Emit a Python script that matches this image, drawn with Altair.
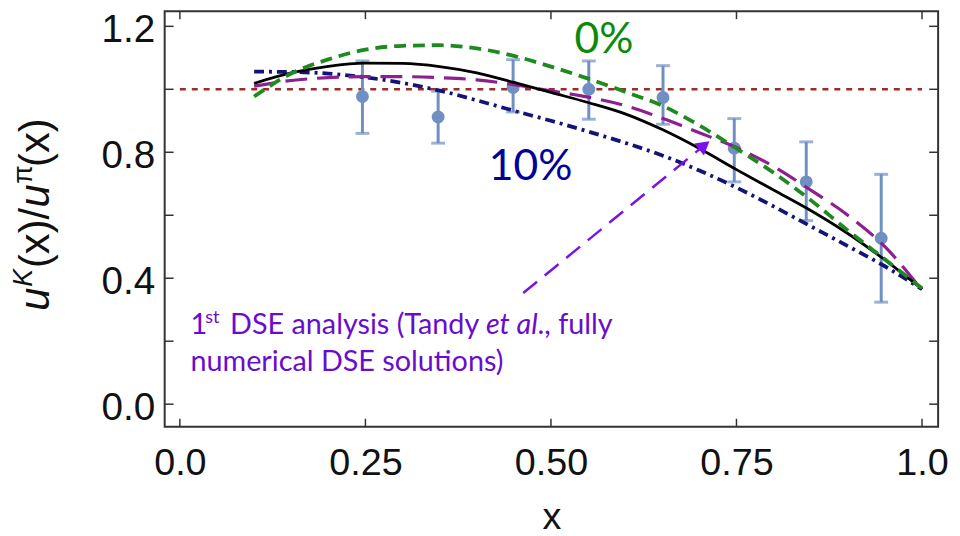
import altair as alt
import pandas as pd

# ---------------- data ----------------
X_GRID = [0.10, 0.15, 0.20, 0.25, 0.30, 0.35, 0.40, 0.45, 0.50, 0.55,
          0.60, 0.65, 0.70, 0.75, 0.80, 0.85, 0.90, 0.95, 1.00]
BLACK = [1.019, 1.052, 1.073, 1.083, 1.082, 1.072, 1.052, 1.022, 0.990, 0.958,
         0.922, 0.872, 0.812, 0.745, 0.680, 0.615, 0.542, 0.458, 0.365]
GREEN = [0.977, 1.050, 1.095, 1.126, 1.138, 1.140, 1.130, 1.106, 1.072, 1.034,
         0.992, 0.948, 0.885, 0.812, 0.735, 0.648, 0.552, 0.460, 0.368]
PURPLE = [1.010, 1.028, 1.037, 1.040, 1.040, 1.037, 1.030, 1.015, 0.995, 0.975,
          0.948, 0.908, 0.862, 0.815, 0.755, 0.680, 0.600, 0.500, 0.362]
NAVY = [1.056, 1.055, 1.050, 1.038, 1.020, 0.996, 0.965, 0.932, 0.900, 0.866,
        0.830, 0.790, 0.742, 0.688, 0.628, 0.565, 0.502, 0.438, 0.365]

REF_X = [0.0, 1.0]
REF_Y = [1.0, 1.0]

PTS_X = [0.246, 0.348, 0.449, 0.551, 0.651, 0.747, 0.844, 0.945]
PTS_Y = [0.977, 0.912, 1.006, 1.000, 0.974, 0.813, 0.706, 0.527]
PTS_LO = [0.860, 0.829, 0.928, 0.905, 0.889, 0.706, 0.583, 0.324]
PTS_HI = [1.090, 0.994, 1.094, 1.090, 1.075, 0.907, 0.833, 0.730]

ARROW_X = [0.4626, 0.7066]
ARROW_Y = [0.353, 0.822]

X_TICKS = [0.0, 0.25, 0.5, 0.75, 1.0]
Y_TICKS = [0.0, 0.2, 0.4, 0.6, 0.8, 1.0, 1.2]
Y_LABELS = [0.0, 0.4, 0.8, 1.2]

# ---------------- layout ----------------
W, H = 780, 419
XS = alt.Scale(domain=[-0.0205, 1.0217], nice=False, zero=False)
YS = alt.Scale(domain=[-0.0715, 1.248], nice=False, zero=False)
AXFONT = "Liberation Sans"
NOTEFONT = "Lato"

XAX = alt.Axis(values=X_TICKS, grid=False, ticks=False, tickSize=0, domain=False,
               labelExpr="datum.value == 0 ? '0.0' : datum.value == 1 ? '1.0' : format(datum.value, '.2f')",
               labelFont=AXFONT, labelFontSize=38, labelColor="#111", labelPadding=18,
               labelFlush=False, title="x", titleFont=AXFONT, titleFontSize=38,
               titleFontWeight="normal", titleColor="#111", titlePadding=17)
YAX = alt.Axis(values=Y_LABELS, grid=False, ticks=False, tickSize=0, domain=False,
               format=".1f", labelFont=AXFONT, labelFontSize=39, labelColor="#111",
               labelPadding=10, labelOffset=3, labelFlush=False, title=None)


def xe(field):
    return alt.X(field, type="quantitative", scale=XS, axis=XAX)


def ye(field):
    return alt.Y(field, type="quantitative", scale=YS, axis=YAX)


def curve(vals, color, dash, width):
    df = pd.DataFrame({"x": X_GRID, "y": vals})
    mk = dict(color=color, strokeWidth=width, interpolate="monotone")
    if dash:
        mk["strokeDash"] = dash
    return alt.Chart(df).mark_line(**mk).encode(x=xe("x"), y=ye("y"))


ref = alt.Chart(pd.DataFrame({"x": REF_X, "y": REF_Y})).mark_line(
    color="#a02a2a", strokeWidth=2.5, strokeDash=[6, 6]).encode(x=xe("x"), y=ye("y"))

pts_df = pd.DataFrame({"x": PTS_X, "y": PTS_Y, "lo": PTS_LO, "hi": PTS_HI})
PCOL = "#7090c4"
ebar = alt.Chart(pts_df).mark_rule(color=PCOL, strokeWidth=3).encode(
    x=xe("x"), y=ye("lo"), y2="hi")
cap_lo = alt.Chart(pts_df).mark_tick(color=PCOL, orient="horizontal", size=14, thickness=3).encode(
    x=xe("x"), y=ye("lo"))
cap_hi = alt.Chart(pts_df).mark_tick(color=PCOL, orient="horizontal", size=14, thickness=3).encode(
    x=xe("x"), y=ye("hi"))
dots = alt.Chart(pts_df).mark_circle(color=PCOL, size=170, opacity=1).encode(
    x=xe("x"), y=ye("y"))

c_black = curve(BLACK, "#000000", None, 2.8)
c_purple = curve(PURPLE, "#8e1f8e", [22, 10], 3.2)
c_green = curve(GREEN, "#1f8a1f", [12, 7], 3.8)
c_navy = curve(NAVY, "#141478", [10, 5, 3, 5], 3.8)

arrow_df = pd.DataFrame({"x": ARROW_X, "y": ARROW_Y})
ACOL = "#7a14e6"
arrow_line = alt.Chart(arrow_df).mark_line(color=ACOL, strokeWidth=2.5, strokeDash=[18, 10]).encode(
    x=xe("x"), y=ye("y"))
arrow_head = alt.Chart(arrow_df.tail(1)).mark_point(
    shape="triangle-up", filled=True, size=240, angle=51, color=ACOL, opacity=1).encode(
    x=xe("x"), y=ye("y"))

# tick marks (inward, on all four sides)
TK = "#333333"
xt = pd.DataFrame({"v": X_TICKS})
yt = pd.DataFrame({"v": Y_TICKS})
t_bottom = alt.Chart(xt).mark_rule(color=TK, strokeWidth=1.5).encode(
    x=xe("v"), y=alt.value(H), y2=alt.value(H - 8))
t_top = alt.Chart(xt).mark_rule(color=TK, strokeWidth=1.5).encode(
    x=xe("v"), y=alt.value(0), y2=alt.value(8))
t_left = alt.Chart(yt).mark_rule(color=TK, strokeWidth=1.5).encode(
    y=ye("v"), x=alt.value(0), x2=alt.value(9))
t_right = alt.Chart(yt).mark_rule(color=TK, strokeWidth=1.5).encode(
    y=ye("v"), x=alt.value(W), x2=alt.value(W - 9))

# annotations
lab0 = alt.Chart(pd.DataFrame({"x": [0.5715], "y": [1.157], "t": ["0%"]})).mark_text(
    font=NOTEFONT, fontSize=43, color="#0a8a0a", align="center", baseline="middle").encode(
    x=xe("x"), y=ye("y"), text="t:N")
lab10 = alt.Chart(pd.DataFrame({"x": [0.4725], "y": [0.753], "t": ["10%"]})).mark_text(
    font=NOTEFONT, fontSize=43, color="#00009a", align="center", baseline="middle").encode(
    x=xe("x"), y=ye("y"), text="t:N")

NCOL = "#6a0ccf"
note_pieces = [
    # text, x(px in plot), baseline y(px in plot), size, style
    ("1", 26, 326, 29, "normal"),
    ("st", 41, 314, 18, "normal"),
    ("DSE analysis (Tandy", 66, 326, 29, "normal"),
    ("et al", 324, 326, 29, "italic"),
    ("., fully", 376, 326, 29, "normal"),
    ("numerical DSE solutions)", 26, 363, 29, "normal"),
]
note_layers = []
for t, px, py, fs, st in note_pieces:
    note_layers.append(
        alt.Chart(pd.DataFrame({"t": [t]})).mark_text(
            font=NOTEFONT, fontSize=fs, fontStyle=st, color=NCOL, align="left",
            baseline="alphabetic").encode(x=alt.value(px), y=alt.value(py), text="t:N"))

# y-axis title built from pieces (rotated)
TBASE = -117   # baseline x (px, plot coords)
title_pieces = [
    # text, y start (px, plot coords, bottom), size, style, raise
    ("u", 302, 42, "italic", 0),
    ("K", 278, 27, "italic", 17),
    ("(x)/", 259, 42, "normal", 0),
    ("u", 198, 42, "italic", 0),
    ("\u03c0", 174, 27, "normal", 17),
    ("(x)", 157, 42, "normal", 0),
]
title_layers = []
for t, py, fs, st, rs in title_pieces:
    title_layers.append(
        alt.Chart(pd.DataFrame({"t": [t]})).mark_text(
            font=AXFONT, fontSize=fs, fontStyle=st, color="#111", align="left",
            baseline="alphabetic", angle=270).encode(
            x=alt.value(TBASE - rs), y=alt.value(py), text="t:N"))

chart = alt.layer(
    ref, ebar, cap_lo, cap_hi, dots,
    c_navy, c_purple, c_black, c_green,
    arrow_line, arrow_head,
    t_bottom, t_top, t_left, t_right,
    lab0, lab10, *note_layers, *title_layers,
).properties(
    width=W, height=H,
    autosize=alt.AutoSizeParams(type="none"),
    padding={"left": 158, "top": 1, "right": 14, "bottom": 108},
    background="white",
).configure_view(stroke="#333333", strokeWidth=2)

chart.save("out.html", embed_options={"renderer": "svg", "actions": False})
